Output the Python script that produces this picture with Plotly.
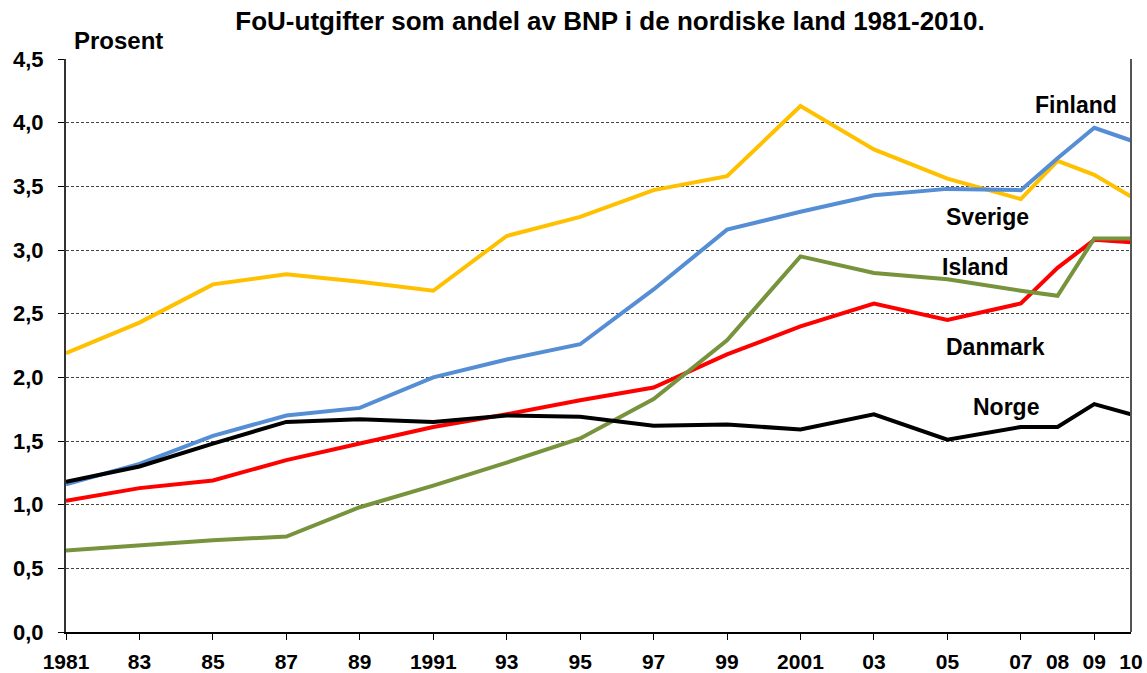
import plotly.graph_objects as go

years = [1981, 1983, 1985, 1987, 1989, 1991, 1993, 1995, 1997, 1999,
         2001, 2003, 2005, 2007, 2008, 2009, 2010]

sverige = [2.19, 2.43, 2.73, 2.81, 2.75, 2.68, 3.11, 3.26, 3.47, 3.58,
           4.13, 3.79, 3.56, 3.40, 3.70, 3.59, 3.42]
finland = [1.16, 1.32, 1.54, 1.70, 1.76, 2.00, 2.14, 2.26, 2.69, 3.16,
           3.30, 3.43, 3.48, 3.47, 3.72, 3.96, 3.86]
danmark = [1.03, 1.13, 1.19, 1.35, 1.48, 1.61, 1.71, 1.82, 1.92, 2.18,
           2.40, 2.58, 2.45, 2.58, 2.86, 3.08, 3.06]
island = [0.64, 0.68, 0.72, 0.75, 0.98, 1.15, 1.33, 1.52, 1.83, 2.29,
          2.95, 2.82, 2.77, 2.68, 2.64, 3.09, 3.09]
norge = [1.18, 1.30, 1.48, 1.65, 1.67, 1.65, 1.70, 1.69, 1.62, 1.63,
         1.59, 1.71, 1.51, 1.61, 1.61, 1.79, 1.71]

x_tickvals = [1981, 1983, 1985, 1987, 1989, 1991, 1993, 1995, 1997, 1999,
              2001, 2003, 2005, 2007, 2008, 2009, 2010]
x_ticktext = ["1981", "83", "85", "87", "89", "1991", "93", "95", "97", "99",
              "2001", "03", "05", "07", "08", "09", "10"]
y_tickvals = [0, 0.5, 1.0, 1.5, 2.0, 2.5, 3.0, 3.5, 4.0, 4.5]
y_ticktext = ["0,0", "0,5", "1,0", "1,5", "2,0", "2,5", "3,0", "3,5", "4,0", "4,5"]

series = [
    ("Sverige", sverige, "#FFC000"),
    ("Finland", finland, "#558ED5"),
    ("Danmark", danmark, "#FF0000"),
    ("Island", island, "#77933C"),
    ("Norge", norge, "#000000"),
]

labels = [
    ("Finland", 2008.5, 4.14),
    ("Sverige", 2006.1, 3.26),
    ("Island", 2005.75, 2.87),
    ("Danmark", 2006.3, 2.24),
    ("Norge", 2006.6, 1.77),
]

FONT = "Liberation Sans, Arial, sans-serif"
L, R, T, B = 66, 16, 59, 41
W, H = 1147, 673

fig = go.Figure()
for name, vals, col in series:
    fig.add_trace(go.Scatter(x=years, y=vals, mode="lines", name=name,
                             line=dict(color=col, width=4), showlegend=False))

for text, lx, ly in labels:
    fig.add_annotation(x=lx, y=ly, xref="x", yref="y", text=text,
                       showarrow=False,
                       font=dict(family=FONT, size=23, color="black", weight="bold"))

fig.add_annotation(x=(72 - L) / (W - L - R), y=1 + (T - 40) / (H - T - B),
                   xref="paper", yref="paper", text="Prosent",
                   showarrow=False, xanchor="left", yanchor="middle",
                   font=dict(family=FONT, size=24, color="black", weight="bold"))

fig.update_layout(
    width=W, height=H,
    margin=dict(l=L, r=R, t=T, b=B, autoexpand=False),
    paper_bgcolor="white", plot_bgcolor="white",
    font=dict(family=FONT, color="black"),
    title=dict(text="FoU-utgifter som andel av BNP i de nordiske land 1981-2010.",
               x=610 / W, xanchor="center", y=1 - 21 / H, yanchor="middle",
               font=dict(family=FONT, size=26, color="black", weight="bold")),
)

fig.update_xaxes(
    range=[1981, 2010], tickvals=x_tickvals, ticktext=x_ticktext,
    ticks="", showgrid=False, zeroline=False, automargin=False,
    showline=True, linecolor="black", linewidth=2, mirror=False,
    tickfont=dict(family=FONT, size=21, color="black", weight="bold"),
    minor=dict(ticks="outside", tick0=1981, dtick=2, ticklen=6, tickwidth=1,
               tickcolor="black", showgrid=False),
    ticklabelstandoff=10,
)
fig.update_yaxes(
    range=[0, 4.5], tickvals=y_tickvals, ticktext=y_ticktext,
    ticks="outside", ticklen=6, tickcolor="black", tickwidth=1,
    showgrid=True, gridcolor="#444444", gridwidth=1, griddash="3px,2px",
    zeroline=False, showline=True, linecolor="#333333", linewidth=2,
    automargin=False,
    tickfont=dict(family=FONT, size=22, color="black", weight="bold"),
    ticklabelstandoff=10,
)

# right border
fig.add_shape(type="line", xref="paper", yref="paper", x0=1, x1=1, y0=0, y1=1,
              line=dict(color="#555555", width=2))

fig.write_html("out.html", config={"displayModeBar": False},
               post_script="document.body.style.margin='0';document.body.style.overflow='hidden';")
